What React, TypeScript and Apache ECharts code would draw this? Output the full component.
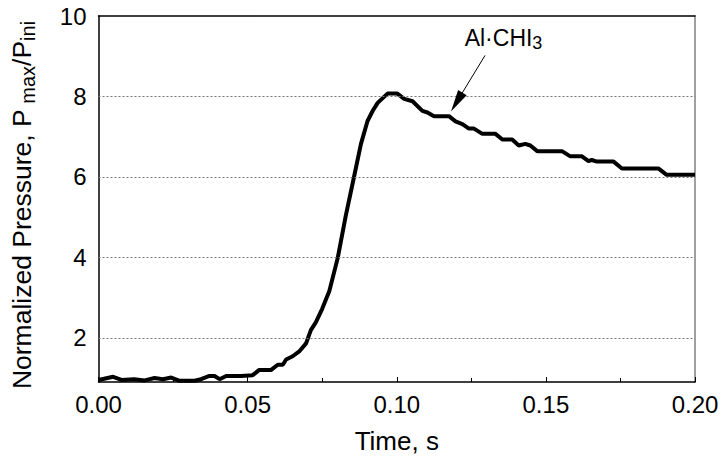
import React, { useEffect, useRef } from 'react';
import * as echarts from 'echarts';

const times = [0.000, 0.0049, 0.0077, 0.012, 0.0155, 0.0188, 0.0216, 0.0244, 0.0272, 0.0322, 0.0344, 0.0372, 0.0389, 0.0406, 0.0428, 0.0478, 0.0517, 0.0539, 0.0579, 0.0601, 0.0618, 0.0629, 0.0651, 0.0673, 0.0696, 0.0712, 0.0729, 0.0750, 0.0774, 0.0802, 0.0829, 0.0857, 0.0880, 0.0902, 0.0920, 0.0936, 0.0969, 0.1002, 0.1025, 0.1053, 0.1086, 0.1103, 0.1125, 0.1175, 0.1197, 0.1220, 0.1242, 0.1259, 0.1287, 0.1331, 0.1354, 0.1387, 0.1409, 0.1431, 0.1448, 0.1471, 0.1554, 0.1582, 0.1621, 0.1643, 0.1654, 0.1671, 0.1727, 0.1755, 0.1877, 0.1905, 0.2000];
const pressure = [0.95, 1.03, 0.95, 0.97, 0.94, 1.0, 0.97, 1.01, 0.93, 0.93, 0.97, 1.05, 1.05, 0.97, 1.05, 1.05, 1.07, 1.2, 1.2, 1.33, 1.33, 1.46, 1.54, 1.66, 1.86, 2.19, 2.39, 2.72, 3.16, 3.98, 5.03, 6.01, 6.82, 7.39, 7.65, 7.84, 8.07, 8.07, 7.94, 7.88, 7.64, 7.6, 7.51, 7.51, 7.38, 7.31, 7.2, 7.2, 7.07, 7.07, 6.93, 6.93, 6.78, 6.82, 6.78, 6.64, 6.64, 6.51, 6.51, 6.39, 6.42, 6.38, 6.38, 6.21, 6.21, 6.05, 6.05];
const yTickLabels = [2, 4, 6, 8, 10];
const gridValues = [2, 4, 6, 8];
const annotationText = [0.1358, 9.45];
const arrowTail = [0.1296, 9.02];
const arrowHead = [0.1201, 7.86];

const FONT = '"Liberation Sans", Arial, Helvetica, sans-serif';

export default function App() {
  const ref = useRef<HTMLDivElement>(null);
  useEffect(() => {
    const chart = echarts.init(ref.current!, null, { renderer: 'svg' });
    const data = times.map((t, i) => [t, pressure[i]]);
    chart.setOption({
      animation: false,
      backgroundColor: '#fff',
      textStyle: { fontFamily: FONT, color: '#000' },
      grid: { left: 97, right: 27, top: 16, bottom: 71.5 },
      xAxis: [
        {
          type: 'value',
          min: 0,
          max: 0.2,
          interval: 0.05,
          name: 'Time, s',
          nameLocation: 'middle',
          nameGap: 44,
          nameTextStyle: { fontSize: 26, color: '#000', fontFamily: FONT, lineHeight: 30 },
          axisLine: { show: true, onZero: false, lineStyle: { color: '#000', width: 1.5 } },
          axisTick: { show: true, inside: true, length: 5, lineStyle: { color: '#000', width: 1 } },
          minorTick: { show: true, splitNumber: 2, length: 4, lineStyle: { color: '#000', width: 1 } },
          splitLine: { show: false },
          axisLabel: {
            fontSize: 24,
            lineHeight: 24,
            color: '#000',
            fontFamily: FONT,
            margin: 10,
            formatter: (v: number) => v.toFixed(2),
          },
        },
        {
          type: 'value',
          position: 'top',
          min: 0,
          max: 0.2,
          axisLine: { show: true, onZero: false, lineStyle: { color: '#000', width: 1.5 } },
          axisTick: { show: false },
          axisLabel: { show: false },
          splitLine: { show: false },
        },
      ],
      yAxis: [
        {
          type: 'value',
          min: 0.9,
          max: 10,
          name: '{a|Normalized Pressure, P}{s| max}{a|/P}{s|ini}',
          nameLocation: 'middle',
          nameGap: 61,
          nameTextStyle: {
            color: '#000',
            fontFamily: FONT,
            padding: [0, 12, 0, 0],
            rich: {
              a: { fontSize: 26.5, lineHeight: 32, fontFamily: FONT, color: '#000' },
              s: { fontSize: 20, lineHeight: 16, verticalAlign: 'bottom', fontFamily: FONT, color: '#000' },
            },
          },
          axisLine: { show: true, onZero: false, lineStyle: { color: '#000', width: 1.5 } },
          axisTick: { show: false },
          splitLine: { show: false },
          axisLabel: {
            customValues: yTickLabels,
            fontSize: 24,
            color: '#000',
            fontFamily: FONT,
            margin: 12,
            formatter: (v: number) => String(v),
          },
        },
        {
          type: 'value',
          position: 'right',
          min: 0.9,
          max: 10,
          axisLine: { show: true, onZero: false, lineStyle: { color: '#808080', width: 1.5 } },
          axisTick: { show: false },
          axisLabel: { show: false },
          splitLine: { show: false },
        },
      ],
      series: [
        {
          type: 'line',
          data: [],
          z: 1,
          silent: true,
          markLine: {
            silent: true,
            symbol: ['none', 'none'],
            label: { show: false },
            lineStyle: { color: '#777', type: [2, 2], width: 1 },
            data: gridValues.map((v) => ({ yAxis: v })),
          },
        },
        {
          type: 'line',
          data,
          z: 3,
          clip: false,
          showSymbol: false,
          symbol: 'none',
          lineStyle: { color: '#000', width: 4 },
          markLine: {
            silent: true,
            symbol: ['none', 'triangle'],
            label: { show: false },
            lineStyle: { color: '#000', type: 'solid', width: 1 },
            itemStyle: { color: '#000' },
            data: [[
              { coord: arrowTail, symbol: 'none' },
              { coord: arrowHead, symbol: 'triangle', symbolSize: [10, 22] },
            ]],
          },
          markPoint: {
            silent: true,
            symbol: 'rect',
            symbolSize: 1,
            itemStyle: { color: 'rgba(0,0,0,0)' },
            label: {
              show: true,
              position: 'inside',
              formatter: '{a|Al·CHI}{s|3}',
              rich: {
                a: { fontSize: 23, lineHeight: 28, fontFamily: FONT, color: '#000' },
                s: { fontSize: 18, lineHeight: 14, verticalAlign: 'bottom', fontFamily: FONT, color: '#000' },
              },
            },
            data: [{ coord: annotationText }],
          },
        },
      ],
    });
    return () => chart.dispose();
  }, []);
  return <div ref={ref} style={{ width: 722, height: 461, position: 'absolute', left: 0, top: 0 }} />;
}
